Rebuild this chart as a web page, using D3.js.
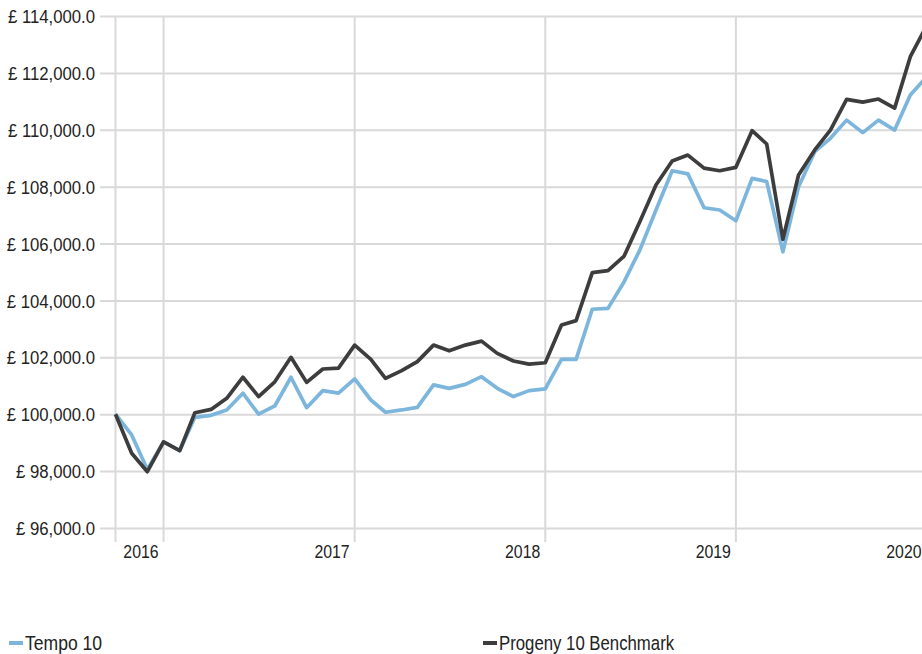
<!DOCTYPE html>
<html>
  <head>
    <meta charset="utf-8">
    <title>Tempo 10 vs Progeny 10 Benchmark</title>
    <script src="https://cdn.jsdelivr.net/npm/d3@7/dist/d3.min.js"></script>
    <style>
      body { margin: 0; background: #fff; overflow: hidden; }
      svg { display: block; }
      text { font-family: "Liberation Sans", Arial, sans-serif; fill: #222; }
      .grid line { stroke: #d9d9d9; stroke-width: 2; }
      .series { fill: none; stroke-width: 3.7; stroke-linejoin: round; }
    </style>
  </head>

  <body>
    <svg id="chart" width="922" height="654"></svg>

    <script>
      // data
      months = [
        "2015-10", "2015-11", "2015-12",
        "2016-01", "2016-02", "2016-03", "2016-04", "2016-05", "2016-06",
        "2016-07", "2016-08", "2016-09", "2016-10", "2016-11", "2016-12",
        "2017-01", "2017-02", "2017-03", "2017-04", "2017-05", "2017-06",
        "2017-07", "2017-08", "2017-09", "2017-10", "2017-11", "2017-12",
        "2018-01", "2018-02", "2018-03", "2018-04", "2018-05", "2018-06",
        "2018-07", "2018-08", "2018-09", "2018-10", "2018-11", "2018-12",
        "2019-01", "2019-02", "2019-03", "2019-04", "2019-05", "2019-06",
        "2019-07", "2019-08", "2019-09", "2019-10", "2019-11", "2019-12",
        "2020-01"
      ];

      tempo = [
        100000, 99270, 98060,
        99030, 98720, 99890, 99960, 100150, 100740, 100000, 100290, 101300, 100230, 100830, 100740,
        101240, 100500, 100070, 100150, 100240, 101030, 100910, 101050, 101320, 100910, 100620, 100830,
        100890, 101930, 101930, 103690, 103720, 104660, 105770, 107180, 108560, 108450, 107260, 107180,
        106800, 108290, 108180, 105710, 108000, 109230, 109700, 110340, 109900, 110340, 109990, 111220,
        111860
      ];

      benchmark = [
        100000, 98630, 97980,
        99030, 98720, 100050, 100170, 100560, 101300, 100620, 101140, 102000, 101120, 101590, 101620,
        102430, 101930, 101260, 101530, 101850, 102430, 102230, 102430, 102570, 102140, 101870, 101760,
        101810, 103140, 103290, 104980, 105050, 105560, 106770, 108060, 108900, 109110, 108650, 108560,
        108680, 109970, 109500, 106150, 108410, 109290, 109990, 111070, 110970, 111080, 110760, 112570,
        113650
      ];

      yTicks = [96000, 98000, 100000, 102000, 104000, 106000, 108000, 110000, 112000, 114000];
      yearTicks = ["2016", "2017", "2018", "2019", "2020"];

      seriesNames = ["Tempo 10", "Progeny 10 Benchmark"];
      seriesColours = ["#7db6dc", "#3d3d3d"];

      // the original uses a condensed face, so squeeze a regular one
      squeeze = 0.88;

      // page elements
      svg = d3.select("#chart");
      parseMonth = d3.timeParse("%Y-%m");
      parseYear = d3.timeParse("%Y");
      dates = months.map(parseMonth);

      x = d3.scaleTime()
        .domain([dates[0], dates[dates.length - 1]])
        .range([115.5, 926.5]);
      y = d3.scaleLinear()
        .domain([96000, 114000])
        .range([528, 16]);

      // horizontal grid and y labels
      yAxis = d3.axisLeft(y)
        .tickValues(yTicks)
        .tickSize(-(922 - 100))
        .tickFormat(function(d) {
          return "£ " + d3.format(",.1f")(d);
        });
      svg.append("g")
        .attr("class", "grid")
        .attr("transform", "translate(100, 0)")
        .call(yAxis)
        .call(function(g) {
          g.select(".domain").remove();
          g.selectAll("line").attr("x1", 0);
          g.selectAll("text")
            .style("font-size", "19px")
            .attr("x", -5 / squeeze)
            .attr("dy", "0.35em")
            .attr("transform", "scale(" + squeeze + ", 1)");
        });

      // vertical grid (plot start plus each year)
      gridDates = [dates[0]].concat(yearTicks.map(parseYear));
      svg.append("g")
        .attr("class", "grid")
        .selectAll("line")
        .data(gridDates)
        .enter().append("line")
          .attr("x1", function(d) { return x(d); })
          .attr("x2", function(d) { return x(d); })
          .attr("y1", 16)
          .attr("y2", 542);

      svg.append("g")
        .selectAll("text")
        .data(yearTicks)
        .enter().append("text")
          .attr("transform", function(d) {
            return "translate(" + (x(parseYear(d)) - 5) + ", 558) scale(0.88, 1)";
          })
          .attr("text-anchor", "end")
          .style("font-size", "18px")
          .text(function(d) { return d; });

      // lines
      line = d3.line()
        .x(function(d, i) { return x(dates[i]); })
        .y(function(d) { return y(d); });

      [tempo, benchmark].forEach(function(s, i) {
        svg.append("path")
          .datum(s)
          .attr("class", "series")
          .attr("stroke", seriesColours[i])
          .attr("d", line);
      });

      // legend
      legendX = [9, 483];
      legend = svg.append("g")
        .selectAll("g")
        .data(seriesNames)
        .enter().append("g")
          .attr("transform", function(d, i) { return "translate(" + legendX[i] + ", 643)"; });
      legend.append("line")
        .attr("x1", 0)
        .attr("x2", 14)
        .attr("stroke", function(d, i) { return seriesColours[i]; })
        .attr("stroke-width", 4);
      legend.append("text")
        .attr("transform", function(d, i) {
          return "translate(16, 7) scale(" + (i == 0 ? 0.9 : 0.86) + ", 1)";
        })
        .style("font-size", "19.5px")
        .text(function(d) { return d; });
    </script>
  </body>
</html>
